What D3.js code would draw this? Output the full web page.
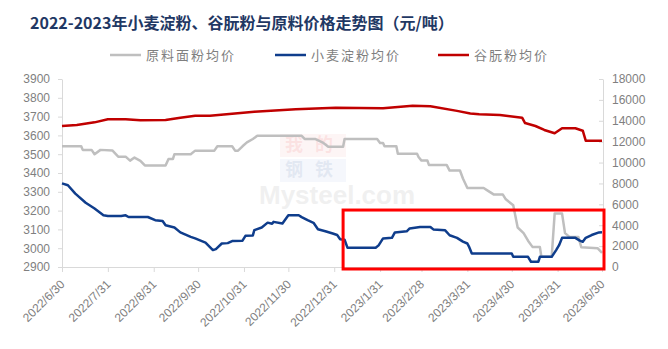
<!DOCTYPE html>
<html>
<head>
<meta charset="utf-8">
<script src="https://cdn.jsdelivr.net/npm/d3@7"></script>
<style>
  body { margin: 0; background: #fff; }
  .axis text { font-family: "Liberation Sans", Arial, sans-serif; font-size: 12px; fill: #7f7f7f; }
  .axis path, .axis line { stroke: #d9d9d9; }
</style>
</head>
<body>
<div id="chart"></div>
<script>
// tick labels
var leftTicks = [2900, 3000, 3100, 3200, 3300, 3400, 3500, 3600, 3700, 3800, 3900];
var rightTicks = [0, 2000, 4000, 6000, 8000, 10000, 12000, 14000, 16000, 18000];
var monthTicks = ["2022-06-30", "2022-07-31", "2022-08-31", "2022-09-30", "2022-10-31", "2022-11-30",
  "2022-12-31", "2023-01-31", "2023-02-28", "2023-03-31", "2023-04-30", "2023-05-31", "2023-06-30"];

var seriesNames = ["原料面粉均价", "小麦淀粉均价", "谷朊粉均价"];

// 原料面粉均价 (left axis)
var flourDates = ["2022-06-30", "2022-07-13", "2022-07-14", "2022-07-20", "2022-07-22", "2022-07-26", "2022-08-03",
  "2022-08-07", "2022-08-12", "2022-08-15", "2022-08-18", "2022-08-22", "2022-08-25", "2022-09-08", "2022-09-10",
  "2022-09-13", "2022-09-14", "2022-09-25", "2022-09-28", "2022-10-11", "2022-10-13", "2022-10-23", "2022-10-25",
  "2022-10-27", "2022-10-30", "2022-11-02", "2022-11-06", "2022-11-09", "2022-12-09", "2022-12-11", "2022-12-18",
  "2022-12-23", "2022-12-27", "2023-01-06", "2023-01-07", "2023-01-29", "2023-01-31", "2023-02-02", "2023-02-03",
  "2023-02-11", "2023-02-12", "2023-02-25", "2023-02-26", "2023-02-28", "2023-03-04", "2023-03-05", "2023-03-17",
  "2023-03-19", "2023-03-26", "2023-03-28", "2023-03-31", "2023-04-11", "2023-04-14", "2023-04-18", "2023-04-24",
  "2023-04-26", "2023-05-01", "2023-05-04", "2023-05-08", "2023-05-11", "2023-05-14", "2023-05-19", "2023-05-20",
  "2023-05-27", "2023-05-29", "2023-06-03", "2023-06-05", "2023-06-08", "2023-06-14", "2023-06-16", "2023-06-27",
  "2023-06-30"];
var flourValues = [3542, 3542, 3523, 3523, 3500, 3523, 3520,
  3487, 3487, 3466, 3482, 3465, 3440, 3440, 3475,
  3475, 3500, 3500, 3519, 3519, 3542, 3542, 3519,
  3519, 3542, 3563, 3581, 3598, 3598, 3581, 3581,
  3563, 3540, 3540, 3581, 3581, 3560, 3560, 3542,
  3542, 3502, 3502, 3485, 3466, 3466, 3443, 3443,
  3413, 3413, 3371, 3320, 3320, 3305, 3285, 3285,
  3260, 3228, 3110, 3080, 3040, 3007, 3007, 2955,
  2955, 3184, 3184, 3080, 3060, 3060, 3005, 3000,
  2975];

// 小麦淀粉均价 (left axis)
var starchDates = ["2022-06-30", "2022-07-04", "2022-07-09", "2022-07-16", "2022-07-22", "2022-07-28", "2022-07-31",
  "2022-08-09", "2022-08-12", "2022-08-14", "2022-08-27", "2022-09-01", "2022-09-06", "2022-09-08", "2022-09-14",
  "2022-09-18", "2022-09-25", "2022-09-28", "2022-10-05", "2022-10-10", "2022-10-12", "2022-10-16", "2022-10-20",
  "2022-10-23", "2022-10-30", "2022-11-01", "2022-11-06", "2022-11-07", "2022-11-12", "2022-11-16", "2022-11-19",
  "2022-11-20", "2022-11-26", "2022-11-30", "2022-12-07", "2022-12-09", "2022-12-13", "2022-12-17", "2022-12-20",
  "2022-12-25", "2022-12-30", "2023-01-02", "2023-01-04", "2023-01-07", "2023-01-09", "2023-01-28", "2023-01-30",
  "2023-02-02", "2023-02-08", "2023-02-10", "2023-02-18", "2023-02-20", "2023-02-27", "2023-03-06", "2023-03-08",
  "2023-03-16", "2023-03-19", "2023-03-24", "2023-03-28", "2023-03-31", "2023-04-01", "2023-04-03", "2023-04-30",
  "2023-05-01", "2023-05-11", "2023-05-13", "2023-05-18", "2023-05-19", "2023-05-27", "2023-05-30", "2023-06-01",
  "2023-06-03", "2023-06-12", "2023-06-15", "2023-06-17", "2023-06-19", "2023-06-23", "2023-06-28", "2023-06-30"];
var starchValues = [3345, 3335, 3290, 3242, 3211, 3175, 3171,
  3171, 3175, 3166, 3166, 3149, 3145, 3122, 3110,
  3084, 3060, 3052, 3030, 2990, 2995, 3025, 3027,
  3038, 3040, 3066, 3068, 3096, 3110, 3136, 3130,
  3140, 3131, 3175, 3175, 3165, 3149, 3135, 3101,
  3090, 3078, 3070, 3048, 3045, 3002, 3002, 3015,
  3052, 3055, 3084, 3090, 3105, 3113, 3113, 3100,
  3095, 3069, 3055, 3035, 3025, 3010, 2972, 2972,
  2954, 2954, 2928, 2928, 2954, 2954, 2990, 3016,
  3055, 3055, 3040, 3034, 3055, 3070, 3084, 3085];

// 谷朊粉均价 (right axis)
var glutenDates = ["2022-06-30", "2022-07-10", "2022-07-22", "2022-07-31", "2022-08-12", "2022-08-22", "2022-09-08",
  "2022-09-18", "2022-09-28", "2022-10-08", "2022-11-07", "2022-12-05", "2023-01-01", "2023-02-02", "2023-02-22",
  "2023-03-06", "2023-03-24", "2023-04-02", "2023-04-08", "2023-04-22", "2023-05-07", "2023-05-09", "2023-05-16",
  "2023-05-22", "2023-05-29", "2023-06-03", "2023-06-12", "2023-06-17", "2023-06-19", "2023-06-30"];
var glutenValues = [13500, 13600, 13850, 14150, 14150, 14050, 14070,
  14300, 14480, 14480, 14870, 15100, 15250, 15200, 15440,
  15400, 14950, 14700, 14620, 14550, 14300, 13780, 13500,
  13120, 12800, 13280, 13280, 13050, 12090, 12090];

var margin = { top: 79, left: 62, right: 65, bottom: 82 },
  width = 668 - margin.left - margin.right,
  height = 349 - margin.top - margin.bottom;

var svg = d3.select("#chart")
  .append("svg")
  .attr("width", 668)
  .attr("height", 349);

// title
svg.append("text")
  .attr("x", 30)
  .attr("y", 29)
  .attr("font-family", "'Noto Sans CJK SC', sans-serif")
  .attr("font-size", 16)
  .attr("font-weight", "bold")
  .attr("fill", "#1f3864")
  .text("2022-2023年小麦淀粉、谷朊粉与原料价格走势图（元/吨）");

var g = svg.append("g")
  .attr("transform", "translate(" + margin.left + "," + margin.top + ")");

var parseTime = d3.timeParse("%Y-%m-%d");

var xPositionScale = d3.scaleTime()
  .domain([parseTime("2022-06-30"), parseTime("2023-06-30")])
  .range([0, width - 1]);

var yLeftScale = d3.scaleLinear()
  .domain([2900, 3900])
  .range([height, 0]);

var yRightScale = d3.scaleLinear()
  .domain([0, 18000])
  .range([height, 0]);

// faint watermark
var wm = g.append("g").attr("opacity", 0.12);
wm.append("rect").attr("x", 218).attr("y", 55).attr("width", 66).attr("height", 23).attr("fill", "#f4b6b6");
wm.append("rect").attr("x", 218).attr("y", 80).attr("width", 66).attr("height", 23).attr("fill", "#b6c6ea");
wm.append("text").attr("x", 223).attr("y", 72)
  .attr("font-family", "'Noto Sans CJK SC', sans-serif").attr("font-size", 18).attr("font-weight", "bold")
  .attr("letter-spacing", 12)
  .attr("fill", "#e0191e").text("我的");
wm.append("text").attr("x", 223).attr("y", 97)
  .attr("font-family", "'Noto Sans CJK SC', sans-serif").attr("font-size", 18).attr("font-weight", "bold")
  .attr("letter-spacing", 12)
  .attr("fill", "#1e4a9a").text("钢铁");
wm.append("text").attr("x", 197).attr("y", 125)
  .attr("font-family", "'Liberation Sans', sans-serif").attr("font-size", 26).attr("font-weight", "bold")
  .attr("fill", "#888").text("Mysteel.com");

// axes
var xAxis = d3.axisBottom(xPositionScale)
  .tickValues(monthTicks.map(parseTime))
  .tickFormat(d3.timeFormat("%Y/%-m/%-d"))
  .tickSizeOuter(0)
  .tickSize(5);
g.append("g")
  .attr("class", "axis x-axis")
  .attr("transform", "translate(0," + height + ")")
  .call(xAxis)
  .selectAll("text")
  .attr("text-anchor", "end")
  .attr("x", 0).attr("y", 0).attr("dy", 0)
  .attr("transform", "translate(3,18) rotate(-45)");
g.select(".x-axis .domain").attr("d", "M0,0.5H" + width);

var yAxisLeft = d3.axisLeft(yLeftScale)
  .tickValues(leftTicks)
  .tickFormat(d3.format("d"))
  .tickSize(4)
  .tickSizeOuter(0);
g.append("g")
  .attr("class", "axis y-axis")
  .call(yAxisLeft)
  .selectAll("text").attr("x", -12);

var yAxisRight = d3.axisRight(yRightScale)
  .tickValues(rightTicks)
  .tickFormat(d3.format("d"))
  .tickSize(4)
  .tickSizeOuter(0);
g.append("g")
  .attr("class", "axis y-axis-right")
  .attr("transform", "translate(" + width + ",0)")
  .call(yAxisRight)
  .call(function(a) { a.selectAll("line").attr("x1", -4).attr("x2", 0); })
  .selectAll("text").attr("x", 9);

// lines
function zipSeries(dates, values) {
  return dates.map(function(d, i) {
    return { datetime: parseTime(d), value: values[i] };
  });
}

var leftLine = d3.line()
  .x(function(d) { return xPositionScale(d.datetime); })
  .y(function(d) { return yLeftScale(d.value); });

var rightLine = d3.line()
  .x(function(d) { return xPositionScale(d.datetime); })
  .y(function(d) { return yRightScale(d.value); });

var colors = ["#bfbfbf", "#0f3d8c", "#c00000"];

g.append("path")
  .datum(zipSeries(flourDates, flourValues))
  .attr("d", leftLine)
  .attr("fill", "none").attr("stroke", colors[0]).attr("stroke-width", 2.5)
  .attr("stroke-linejoin", "round");

g.append("path")
  .datum(zipSeries(glutenDates, glutenValues))
  .attr("d", rightLine)
  .attr("fill", "none").attr("stroke", colors[2]).attr("stroke-width", 2.5)
  .attr("stroke-linejoin", "round");

g.append("path")
  .datum(zipSeries(starchDates, starchValues))
  .attr("d", leftLine)
  .attr("fill", "none").attr("stroke", colors[1]).attr("stroke-width", 2.5)
  .attr("stroke-linejoin", "round");

// red highlight box over the 2023 starch range
var boxLeft = xPositionScale(parseTime("2023-01-06")),
  boxTop = yLeftScale(3203);
g.append("rect")
  .attr("x", boxLeft)
  .attr("y", boxTop)
  .attr("width", width + 1 - boxLeft)
  .attr("height", height + 2 - boxTop)
  .attr("fill", "none")
  .attr("stroke", "#ff0000")
  .attr("stroke-width", 3);

// legend
var legendX = [110, 275, 438];
var legend = svg.append("g");
seriesNames.forEach(function(name, i) {
  legend.append("line")
    .attr("x1", legendX[i]).attr("x2", legendX[i] + 31)
    .attr("y1", 55).attr("y2", 55)
    .attr("stroke", colors[i]).attr("stroke-width", 2.5);
  legend.append("text")
    .attr("x", legendX[i] + 36).attr("y", 60)
    .attr("font-family", "'Noto Sans CJK SC', sans-serif")
    .attr("font-size", 13)
    .attr("letter-spacing", 2)
    .attr("fill", "#7f7f7f")
    .text(name);
});
</script>
</body>
</html>
